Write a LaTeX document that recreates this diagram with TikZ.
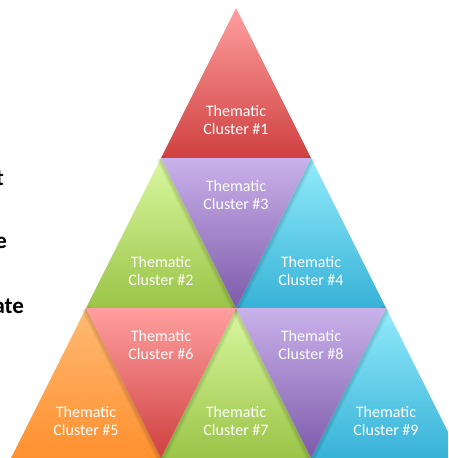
\documentclass[tikz,border=0pt]{standalone}
\usepackage{fontspec}
\setmainfont{Carlito}
\definecolor{redtop}{HTML}{FF9F9F}
\definecolor{redbot}{HTML}{CF4040}
\definecolor{purtop}{HTML}{C9B2EB}
\definecolor{purbot}{HTML}{7D5AAA}
\definecolor{grntop}{HTML}{DAF8A0}
\definecolor{grnbot}{HTML}{9AC447}
\definecolor{blutop}{HTML}{93EBFB}
\definecolor{blubot}{HTML}{37B2D7}
\definecolor{orgtop}{HTML}{FFBA74}
\definecolor{orgbot}{HTML}{FF902E}
\tikzset{
  cluster/.style={text=white, align=center, font=\fontsize{16}{17.5}\selectfont},
  sidetext/.style={anchor=base east, font=\fontsize{23}{26}\selectfont\bfseries, text=black},
  redtri/.style={top color=redtop, bottom color=redbot},
  purtri/.style={top color=purtop, bottom color=purbot},
  grntri/.style={top color=grntop, bottom color=grnbot},
  blutri/.style={top color=blutop, bottom color=blubot},
  orgtri/.style={top color=orgtop, bottom color=orgbot},
  halo/.style={line join=round, black, opacity=0.07}
}
\begin{document}
\begin{tikzpicture}[x=1pt,y=-1pt]
  \useasboundingbox (0,0) rectangle (448,458);
  \clip (0,0) rectangle (448,458);

  % corner points of the big triangle, row by row
  \coordinate (p00) at (236,8);
  \coordinate (p10) at (161,158);
  \coordinate (p11) at (311,158);
  \coordinate (p20) at (86,308);
  \coordinate (p21) at (236,308);
  \coordinate (p22) at (386,308);
  \coordinate (p30) at (11,458);
  \coordinate (p31) at (161,458);
  \coordinate (p32) at (311,458);
  \coordinate (p33) at (461,458);

  % upward triangles
  \shade[redtri] (p00) -- (p10) -- (p11) -- cycle;
  \shade[grntri] (p10) -- (p20) -- (p21) -- cycle;
  \shade[blutri] (p11) -- (p21) -- (p22) -- cycle;
  \shade[orgtri] (p20) -- (p30) -- (p31) -- cycle;
  \shade[grntri] (p21) -- (p31) -- (p32) -- cycle;
  \shade[blutri] (p22) -- (p32) -- (p33) -- cycle;

  % soft shadows of the downward triangles
  \foreach \a/\b/\c in {p10/p21/p11, p20/p31/p21, p21/p32/p22} {
    \draw[halo, line width=9pt] (\a) -- (\b) -- (\c);
    \draw[halo, line width=5pt] (\a) -- (\b) -- (\c);
  }

  % downward triangles
  \shade[purtri] (p10) -- (p11) -- (p21) -- cycle;
  \shade[redtri] (p20) -- (p21) -- (p31) -- cycle;
  \shade[purtri] (p21) -- (p22) -- (p32) -- cycle;

  % labels
  \node[cluster] (c1) at (236,120) {Thematic\\Cluster \#1};
  \node[cluster] (c2) at (161,271) {Thematic\\Cluster \#2};
  \node[cluster] (c3) at (236,195) {Thematic\\Cluster \#3};
  \node[cluster] (c4) at (311,271) {Thematic\\Cluster \#4};
  \node[cluster] (c5) at (86,421) {Thematic\\Cluster \#5};
  \node[cluster] (c6) at (161,345) {Thematic\\Cluster \#6};
  \node[cluster] (c7) at (236,421) {Thematic\\Cluster \#7};
  \node[cluster] (c8) at (311,345) {Thematic\\Cluster \#8};
  \node[cluster] (c9) at (386,421) {Thematic\\Cluster \#9};

  % cut-off words on the left
  \node[sidetext] (w1) at (7.5,185) {t};
  \node[sidetext] (w2) at (10.5,248) {e};
  \node[sidetext] (w3) at (27.5,313) {ate};
\end{tikzpicture}
\end{document}
